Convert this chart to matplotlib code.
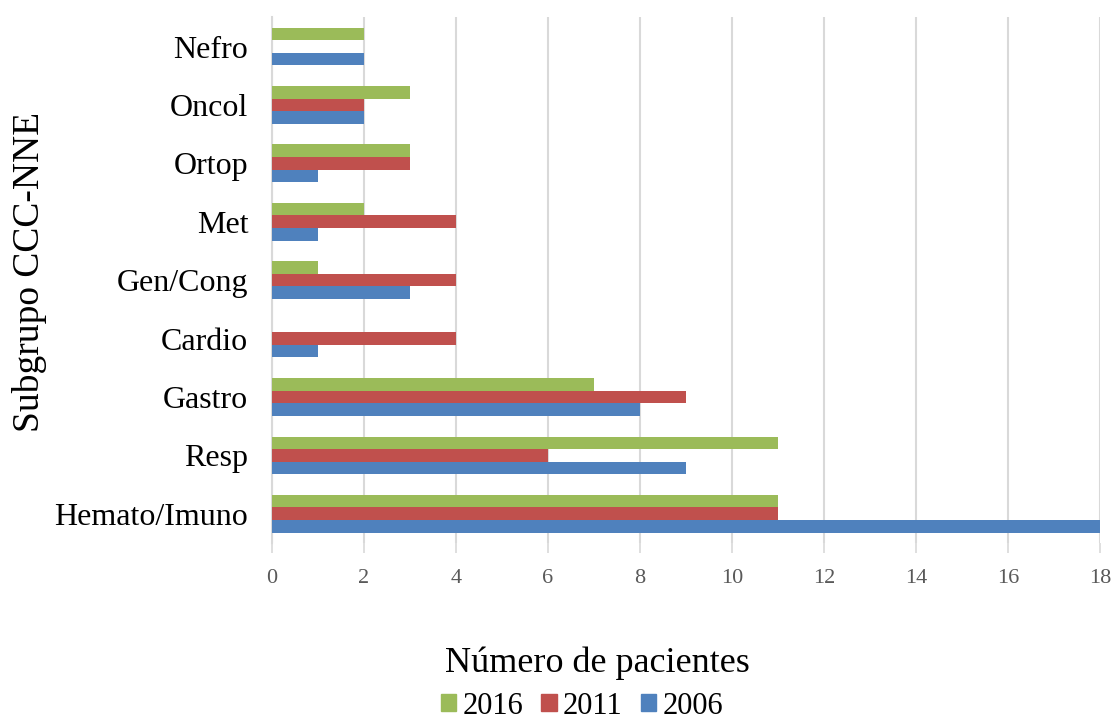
import numpy as np
import matplotlib.pyplot as plt
from matplotlib.patches import Patch

plt.rcParams['font.family'] = ['Liberation Serif', 'DejaVu Serif']

categorias = ["Hemato/Imuno", "Resp", "Gastro", "Cardio", "Gen/Cong",
              "Met", "Ortop", "Oncol", "Nefro"]
anos = ["2016", "2011", "2006"]
v2016 = [11, 11, 7, 0, 1, 2, 3, 3, 2]
v2011 = [11, 6, 9, 4, 4, 4, 3, 2, 0]
v2006 = [18, 9, 8, 1, 3, 1, 1, 2, 2]
xticks = [0, 2, 4, 6, 8, 10, 12, 14, 16, 18]

cores = {"2016": "#9BBB59", "2011": "#C0504D", "2006": "#4F81BD"}

fig = plt.figure(figsize=(11.16, 7.22), dpi=100)
ax = fig.add_axes([0.2437, 0.248, 0.742, 0.728])

y = np.arange(len(categorias))
h = 0.215
ax.barh(y - h, v2006, height=h, color=cores["2006"], zorder=3)
ax.barh(y, v2011, height=h, color=cores["2011"], zorder=3)
ax.barh(y + h, v2016, height=h, color=cores["2016"], zorder=3)

ax.set_ylim(-0.5, len(categorias) - 0.5)
ax.set_xlim(0, 18)
ax.set_xticks(xticks)
ax.set_xticklabels([str(t) for t in xticks], fontsize=16, color="#595959")
ax.set_yticks(y)
ax.set_yticklabels(categorias, fontsize=23)
ax.tick_params(axis="y", length=0, pad=17)
ax.tick_params(axis="x", length=7, width=1.2, color="#D9D9D9", pad=12)

ax.grid(axis="x", color="#D9D9D9", linewidth=1.5, zorder=0)
for s in ["top", "right", "bottom"]:
    ax.spines[s].set_visible(False)
ax.spines["left"].set_color("#D9D9D9")
ax.spines["left"].set_linewidth(1.5)

# axis titles placed in figure coordinates
fig.text(597 / 1116, 1 - 663 / 722, "Número de pacientes", fontsize=26,
         ha="center", va="center")
fig.text(30 / 1116, 1 - 272 / 722, "Subgrupo CCC-NNE", fontsize=27,
         rotation=90, ha="center", va="center")

handles = [Patch(color=cores[a], label=a) for a in anos]
fig.legend(handles=handles, loc="center", bbox_to_anchor=(582 / 1116, 1 - 706 / 722),
           ncol=3, frameon=False, fontsize=22, handlelength=0.5,
           handleheight=0.5, handletextpad=0.2, columnspacing=0.6,
           borderpad=0)

fig.savefig("out.png", dpi=100)
